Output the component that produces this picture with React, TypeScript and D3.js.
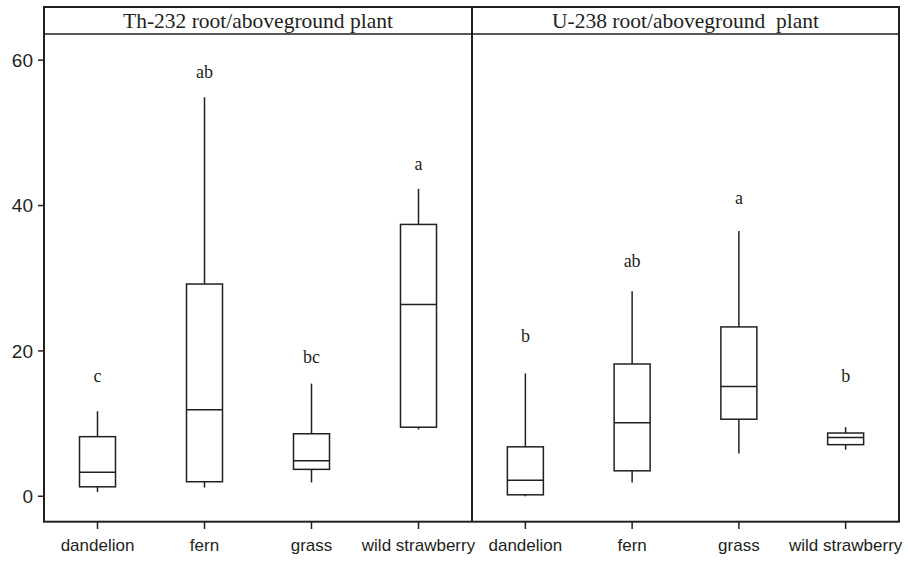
import * as d3 from 'd3';

const categories = ['dandelion', 'fern', 'grass', 'wild strawberry'];
const panelTitles = ['Th-232 root/aboveground plant', 'U-238 root/aboveground\u00a0 plant'];
const yTicks = [0, 20, 40, 60];

// [whisker low, q1, median, q3, whisker high]
const thorium = [
    [0.6, 1.3, 3.3, 8.2, 11.7],
    [1.2, 2.0, 11.9, 29.2, 54.9],
    [1.9, 3.7, 4.9, 8.6, 15.5],
    [9.2, 9.5, 26.4, 37.4, 42.3]
];
const uranium = [
    [0.0, 0.2, 2.2, 6.8, 16.9],
    [1.9, 3.5, 10.1, 18.2, 28.2],
    [5.9, 10.6, 15.1, 23.3, 36.5],
    [6.4, 7.1, 8.1, 8.7, 9.5]
];
const thLetters = ['c', 'ab', 'bc', 'a'];
const uLetters = ['b', 'ab', 'a', 'b'];
const thLetterY = [15.7, 57.5, 18.3, 44.9];
const uLetterY = [21.2, 31.6, 40.2, 15.7];

const ink = '#231f20';

function Panel({ x0, x1, title, stats, letters, letterY, y }: any) {
    const x = d3.scalePoint(categories, [x0, x1]).padding(0.5);
    const bw = 36;
    return (
        <g>
            <text x={(x0 + x1) / 2} y={28} textAnchor="middle" fontFamily="'Liberation Serif', serif" fontSize={21.5} fill={ink}>{title}</text>
            {categories.map((c, i) => {
                const cx = x(c) as number;
                const [lo, q1, med, q3, hi] = stats[i];
                return (
                    <g key={c} stroke={ink} strokeWidth={1.5} fill="none">
                        <line x1={cx} x2={cx} y1={y(hi)} y2={y(q3)} />
                        <line x1={cx} x2={cx} y1={y(q1)} y2={y(lo)} />
                        <rect x={cx - bw / 2} y={y(q3)} width={bw} height={y(q1) - y(q3)} />
                        <line x1={cx - bw / 2} x2={cx + bw / 2} y1={y(med)} y2={y(med)} />
                        <line x1={cx} x2={cx} y1={521.7} y2={529} />
                        <text x={cx} y={y(letterY[i])} textAnchor="middle" stroke="none" fill={ink} fontFamily="'Liberation Serif', serif" fontSize={18}>{letters[i]}</text>
                        <text x={cx} y={551} textAnchor="middle" stroke="none" fill={ink} fontFamily="'Liberation Sans', Arial, sans-serif" fontSize={17}>{c}</text>
                    </g>
                );
            })}
        </g>
    );
}

function App() {
    const width = 908;
    const height = 561;
    const left = 44, right = 899, top = 7, bottom = 521.7, strip = 34, mid = 472;
    const y = d3.scaleLinear([-3.5, 63.6], [bottom, strip]);
    return (
        <svg width={width} height={height} style={{ position: 'absolute', left: 0, top: 0 }}>
            <rect x={0} y={0} width={width} height={height} fill="white" />
            <rect x={left} y={top} width={right - left} height={bottom - top} fill="none" stroke={ink} strokeWidth={2} />
            <line x1={left} x2={right} y1={strip} y2={strip} stroke={ink} strokeWidth={1.5} />
            <line x1={mid} x2={mid} y1={top} y2={bottom} stroke={ink} strokeWidth={2} />
            {yTicks.map(t => (
                <g key={t}>
                    <line x1={38} x2={left} y1={y(t)} y2={y(t)} stroke={ink} strokeWidth={1.5} />
                    <text x={33} y={y(t)} dy="0.36em" textAnchor="end" fontFamily="'Liberation Sans', Arial, sans-serif" fontSize={19} fill={ink}>{t}</text>
                </g>
            ))}
            <Panel x0={left} x1={mid} title={panelTitles[0]} stats={thorium} letters={thLetters} letterY={thLetterY} y={y} />
            <Panel x0={mid} x1={right} title={panelTitles[1]} stats={uranium} letters={uLetters} letterY={uLetterY} y={y} />
        </svg>
    );
}

export default App;
